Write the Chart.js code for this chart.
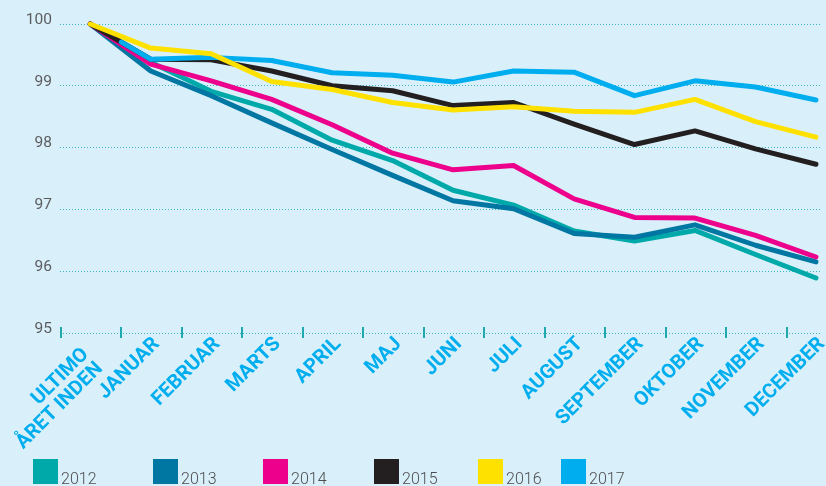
<!DOCTYPE html>
<html>
<head>
<meta charset="utf-8">
<script src="https://cdn.jsdelivr.net/npm/chart.js@4.4.1/dist/chart.umd.min.js"></script>
<style>
  html, body { margin: 0; padding: 0; background: #d9f0fa; overflow: hidden; }
  #wrap { position: relative; width: 826px; height: 486px; }
  #legend { position: absolute; left: 0; top: 459px; width: 826px; height: 27px; }
  .item { position: absolute; top: 0; display: flex; align-items: flex-end; }
  .box { width: 25px; height: 25px; }
  .txt { font: 300 16px Roboto, sans-serif; color: #4d4d4f; margin-left: 3px; line-height: 16px; position: relative; top: 3px; }
</style>
</head>
<body>
<div id="wrap">
  <canvas id="chart" width="826" height="486"></canvas>
  <div id="legend"></div>
</div>
<script>
// kategorier (mellemrum til sidst skubber første etiket lidt til venstre)
const months = [['ULTIMO   ', 'ÅRET INDEN   '], 'JANUAR', 'FEBRUAR', 'MARTS', 'APRIL', 'MAJ', 'JUNI',
  'JULI', 'AUGUST', 'SEPTEMBER', 'OKTOBER', 'NOVEMBER', 'DECEMBER'];

// indeks, ultimo året inden = 100
const y2012 = [100, 99.38, 98.91, 98.62, 98.12, 97.79, 97.31, 97.07, 96.65, 96.49, 96.66, 96.27, 95.89];
const y2013 = [100, 99.24, 98.84, 98.40, 97.97, 97.55, 97.14, 97.01, 96.61, 96.55, 96.75, 96.42, 96.15];
const y2014 = [100, 99.35, 99.08, 98.78, 98.37, 97.91, 97.64, 97.71, 97.17, 96.87, 96.86, 96.58, 96.23];
const y2015 = [100, 99.43, 99.42, 99.24, 99.00, 98.92, 98.68, 98.73, 98.38, 98.05, 98.27, 97.98, 97.73];
const y2016 = [100, 99.61, 99.52, 99.07, 98.94, 98.73, 98.61, 98.66, 98.59, 98.57, 98.78, 98.42, 98.17];
const y2017 = [100, 99.43, 99.46, 99.41, 99.21, 99.17, 99.06, 99.24, 99.22, 98.84, 99.08, 98.98, 98.77];

const yTicks = [95, 96, 97, 98, 99, 100];

const series = [
  { label: '2012', data: y2012, color: '#00a9a9', order: 5 },
  { label: '2013', data: y2013, color: '#0076a3', order: 4 },
  { label: '2014', data: y2014, color: '#ec008c', order: 3 },
  { label: '2015', data: y2015, color: '#231f20', order: 2 },
  { label: '2016', data: y2016, color: '#ffe100', order: 0 },
  { label: '2017', data: y2017, color: '#00aeef', order: 1 }
];

// streger på x-aksen mellem månederne
const tickMarks = {
  id: 'tickMarks',
  afterDraw(chart) {
    const x = chart.scales.x, y = chart.scales.y;
    const ctx = chart.ctx;
    const base = y.getPixelForValue(yTicks[0]);
    ctx.save();
    ctx.strokeStyle = '#1fa9ad';
    ctx.lineWidth = 2;
    for (let i = 0; i < months.length; i++) {
      const px = Math.round(x.getPixelForValue(i - 0.5)) + 1;
      ctx.beginPath();
      ctx.moveTo(px, base - 6);
      ctx.lineTo(px, base + 5);
      ctx.stroke();
    }
    ctx.restore();
  }
};

const datasets = series.map(s => {
  const ds = {
    label: s.label,
    data: s.data.map((v, i) => ({ x: i, y: v })),
    borderColor: s.color,
    backgroundColor: s.color,
    borderWidth: 5,
    borderCapStyle: 'round',
    borderJoinStyle: 'round',
    pointRadius: 0,
    tension: 0,
    clip: false,
    order: s.order
  };
  // 2017-linjen er skjult under de andre i starten
  if (s.label === '2017') {
    ds.segment = {
      borderDash: ctx => ctx.p0DataIndex === 0 ? [300, 36] : undefined,
      borderDashOffset: ctx => ctx.p0DataIndex === 0 ? 300 : undefined
    };
  }
  return ds;
});

new Chart(document.getElementById('chart'), {
  type: 'line',
  data: { datasets: datasets },
  plugins: [tickMarks],
  options: {
    responsive: false,
    animation: false,
    layout: { padding: { top: 24, right: 4, left: 0, bottom: 0 } },
    plugins: { legend: { display: false }, tooltip: { enabled: false } },
    scales: {
      x: {
        type: 'linear',
        min: -0.5,
        max: 12.1,
        grid: { display: false },
        border: { display: false },
        afterBuildTicks: s => { s.ticks = months.map((m, i) => ({ value: i })); },
        afterFit: s => { s.height = 153; },
        ticks: {
          autoSkip: false,
          minRotation: 45,
          maxRotation: 45,
          padding: -7,
          labelOffset: 6,
          color: '#00aeef',
          font: { family: 'Roboto', size: 20, weight: 'bold', lineHeight: 1.0 },
          callback: v => months[v]
        }
      },
      y: {
        min: 95,
        max: 100,
        afterBuildTicks: s => { s.ticks = yTicks.map(v => ({ value: v })); },
        afterFit: s => { s.width = 60; },
        grid: { color: '#3ab6c0', lineWidth: 1, drawTicks: false },
        border: { display: false, dash: [1, 2] },
        ticks: {
          padding: 8,
          labelOffset: -4,
          color: '#5b5c5f',
          font: { family: 'Roboto', size: 15.5, weight: 'normal' }
        }
      }
    }
  }
});

// forklaring
const legendLeft = [33, 153, 263, 374, 478, 561];
const legend = document.getElementById('legend');
series.forEach((s, i) => {
  const item = document.createElement('div');
  item.className = 'item';
  item.style.left = legendLeft[i] + 'px';
  item.innerHTML = '<span class="box" style="background:' + s.color + '"></span><span class="txt">' + s.label + '</span>';
  legend.appendChild(item);
});
</script>
</body>
</html>
